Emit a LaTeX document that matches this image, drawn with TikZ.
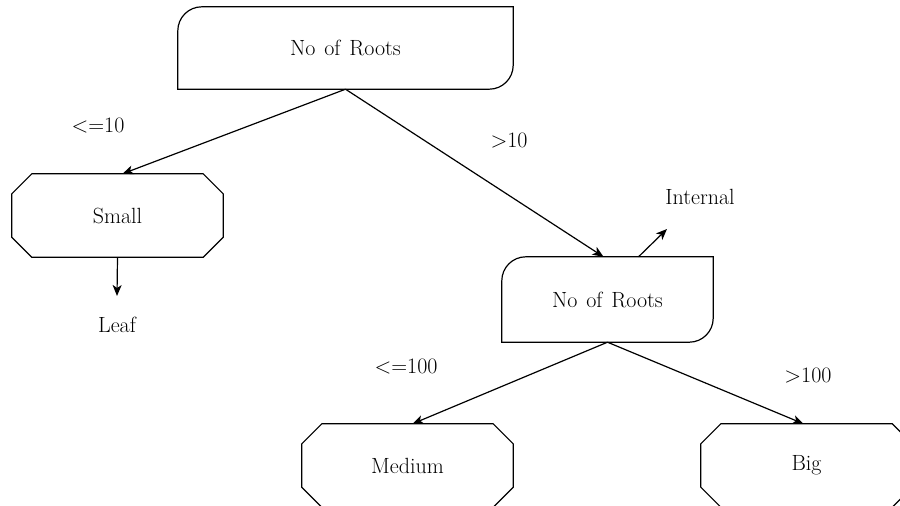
\documentclass[tikz,border=0pt]{standalone}
\usetikzlibrary{calc,arrows.meta}
\begin{document}
\begin{tikzpicture}[x=1pt,y=-1pt,
  every node/.style={font=\fontsize{22}{26}\selectfont},
  box/.style={inner sep=0pt,minimum width=#1},
  edge/.style={line width=1.2pt,line cap=rect},
  conn/.style={line width=1.2pt,-{Stealth[length=11pt,width=9pt,inset=3pt]}},
  lbl/.style={inner sep=0pt}
]
\useasboundingbox (0,0) rectangle (900,506);

% decision boxes: rounded top-left and bottom-right corners
\newcommand{\decisionbox}[1]{%
  \draw[edge,rounded corners=24pt] (#1.south west) -- (#1.north west) -- (#1.north east);
  \draw[edge,rounded corners=24pt] (#1.north east) -- (#1.south east) -- (#1.south west);}
% outcome boxes: octagon with equal chamfers
\newcommand{\outcomebox}[1]{%
  \draw[edge,line join=miter]
    ($(#1.north west)+(20,0)$) -- ($(#1.north east)+(-20,0)$) --
    ($(#1.north east)+(0,20)$) -- ($(#1.south east)+(0,-20)$) --
    ($(#1.south east)+(-20,0)$) -- ($(#1.south west)+(20,0)$) --
    ($(#1.south west)+(0,-20)$) -- ($(#1.north west)+(0,20)$) -- cycle;}

\node[box=335pt,minimum height=82pt] (root) at (345.5,48) {No\hspace{0.1em} of\hspace{0.1em} Roots};
\node[box=211pt,minimum height=85pt] (sub) at (607.5,299.5) {No\hspace{0.1em} of\hspace{0.1em} Roots};
\node[box=211pt,minimum height=83pt] (small) at (117.5,215.5) {Small};
\node[box=211pt,minimum height=83pt] (medium) at (407.5,465.5) {Medium};
\node[box=211pt,minimum height=83pt] (big) at (806.5,465.5) {Big};

\decisionbox{root}
\decisionbox{sub}
\outcomebox{small}
\outcomebox{medium}
\outcomebox{big}

% branch labels and leaf / internal markers
\node[lbl] (l10) at (98,126) {<=10};
\node[lbl] (g10) at (509,141) {>10};
\node[lbl] (l100) at (406,367) {<=100};
\node[lbl] (g100) at (808,376) {>100};
\node[lbl] (internal) at (700,197) {Internal};
\node[lbl] (leaf) at (117,325) {Leaf};
\coordinate (leafend) at (117,296);
\coordinate (intstart) at ($(sub.north)+(31,0)$);
\coordinate (intend) at (667,229);

\draw[conn] (root.south) -- ($(small.north)+(5,0)$);
\draw[conn] (root.south) -- ($(sub.north)+(-4,0)$);
\draw[conn] (small.south) -- (leafend);
\draw[conn] (intstart) -- (intend);
\draw[conn] (sub.south) -- ($(medium.north)+(5,0)$);
\draw[conn] (sub.south) -- ($(big.north)+(-3,0)$);
\end{tikzpicture}
\end{document}
